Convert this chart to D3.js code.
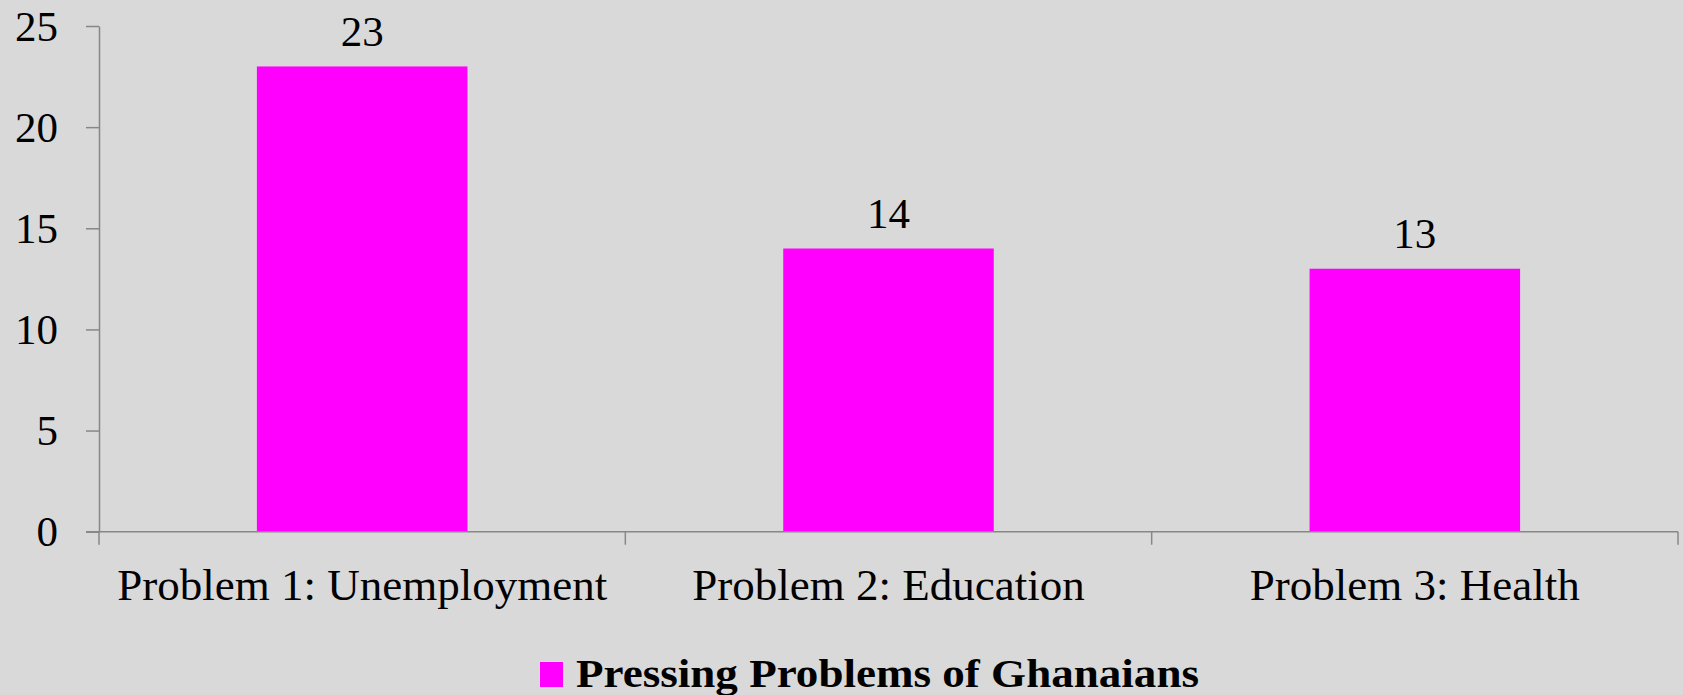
<!DOCTYPE html>
<html>
<head>
<meta charset="utf-8">
<script src="https://cdn.jsdelivr.net/npm/d3@7"></script>
<style>
html,body{margin:0;padding:0;background:#d9d9d9;}
svg{display:block;}
</style>
</head>
<body>
<script>
const categories = ["Problem 1: Unemployment", "Problem 2: Education", "Problem 3: Health"];
const values = [23, 14, 13];
const yTicks = [0, 5, 10, 15, 20, 25];
const seriesName = "Pressing Problems of Ghanaians";

(function () {
const W = 1683, H = 695;
const mLeft = 99, mRight = 1678, mTop = 26, mBottom = 531.7;
const font = "'Liberation Serif', 'Times New Roman', serif";
const axisColor = "#878787";
const barColor = "#ff00ff";

const svg = d3.select("body").append("svg").attr("width", W).attr("height", H);
svg.append("rect").attr("width", W).attr("height", H).attr("fill", "#d9d9d9");

const y = d3.scaleLinear().domain([0, 25]).range([mBottom, mTop]);
const x = d3.scaleBand().domain(categories).range([mLeft, mRight]).paddingInner(0).paddingOuter(0);

// Y axis
const yAxis = svg.append("g").attr("transform", `translate(${mLeft},0)`)
  .call(d3.axisLeft(y).tickValues(yTicks).tickSize(13).tickSizeOuter(0).tickPadding(28).tickFormat(d3.format("d")));
yAxis.select(".domain").attr("stroke", axisColor).attr("stroke-width", 1.5);
yAxis.selectAll(".tick line").attr("stroke", axisColor).attr("stroke-width", 1.5);
yAxis.selectAll(".tick text").attr("font-family", font).attr("font-size", 43).attr("fill", "#000").attr("dy", "0.33em");

// Bars
const bw = x.bandwidth() * 0.4;
svg.append("g").selectAll("rect").data(values).join("rect")
  .attr("x", (d, i) => x(categories[i]) + x.bandwidth() / 2 - bw / 2)
  .attr("y", d => y(d))
  .attr("width", bw)
  .attr("height", d => y(0) - y(d))
  .attr("fill", barColor);

// X axis line
svg.append("line").attr("x1", mLeft - 13).attr("x2", mRight).attr("y1", y(0)).attr("y2", y(0))
  .attr("stroke", axisColor).attr("stroke-width", 1.5);
// X tick marks at band boundaries
const boundaries = categories.map(c => x(c)).concat([x(categories[categories.length - 1]) + x.bandwidth()]);
svg.append("g").selectAll("line").data(boundaries).join("line")
  .attr("x1", d => d).attr("x2", d => d).attr("y1", y(0)).attr("y2", y(0) + 13)
  .attr("stroke", axisColor).attr("stroke-width", 1.5);

// Category labels
svg.append("g").selectAll("text").data(categories).join("text")
  .attr("x", d => x(d) + x.bandwidth() / 2)
  .attr("y", 600)
  .attr("text-anchor", "middle")
  .attr("font-family", font).attr("font-size", 45).attr("fill", "#000")
  .text(d => d);

// Value labels
svg.append("g").selectAll("text").data(values).join("text")
  .attr("x", (d, i) => x(categories[i]) + x.bandwidth() / 2)
  .attr("y", d => y(d) - 20.5)
  .attr("text-anchor", "middle")
  .attr("font-family", font).attr("font-size", 43).attr("fill", "#000")
  .text(d => d);

// Legend
const lg = svg.append("g");
lg.append("rect").attr("x", 540).attr("y", 662).attr("width", 23).attr("height", 25).attr("fill", barColor);
lg.append("text").attr("x", 576).attr("y", 687)
  .attr("font-family", font).attr("font-size", 41).attr("font-weight", "bold").attr("fill", "#000")
  .attr("textLength", 623).attr("lengthAdjust", "spacingAndGlyphs")
  .text(seriesName);
})();
</script>
</body>
</html>
